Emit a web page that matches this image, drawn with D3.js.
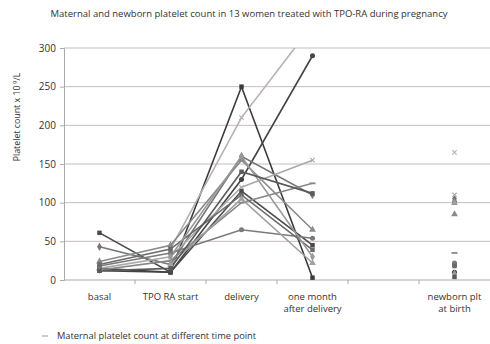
<!DOCTYPE html>
<html><head><meta charset="utf-8">
<script src="https://cdn.jsdelivr.net/npm/d3@7"></script>
<style>body{margin:0;background:#fff}svg{display:block}text{font-family:"Open Sans","Liberation Sans",sans-serif;fill:#333}</style>
</head><body><svg id="c" width="490" height="344"></svg>
<script>
const categories = ["basal", "TPO RA start", "delivery", "one month|after delivery", "", "newborn plt|at birth"];
const yTicks = [0, 50, 100, 150, 200, 250, 300];
// each woman: basal, TPO RA start, delivery, one month after, (gap), newborn
const series = [
  {name: "W1",  color: "#3a3a3a", marker: "square",   values: [15, 10, 250, 3, null, 20]},
  {name: "W2",  color: "#444444", marker: "circle",   values: [12, 10, 130, 290, null, 10]},
  {name: "W3",  color: "#b8b0b0", marker: "x",        values: [null, 40, 210, 330, null, 165]},
  {name: "W4",  color: "#4a4a4a", marker: "square",   values: [61, 10, 115, 45, null, 100]},
  {name: "W5",  color: "#777777", marker: "diamond",  values: [43, 20, 160, 110, null, 105]},
  {name: "W6",  color: "#8a8a8a", marker: "triangle", values: [24, 45, 155, 65, null, 85]},
  {name: "W7",  color: "#aaaaaa", marker: "x",        values: [15, 30, 120, 155, null, 110]},
  {name: "W8",  color: "#888888", marker: "dash",     values: [13, 25, 100, 125, null, 35]},
  {name: "W9",  color: "#7a7a7a", marker: "circle",   values: [18, 35, 65, 54, null, 22]},
  {name: "W10", color: "#6a6a6a", marker: "square",   values: [20, 40, 110, 39, null, 18]},
  {name: "W11", color: "#999999", marker: "diamond",  values: [null, 30, 160, 30, null, 8]},
  {name: "W12", color: "#a0a0a0", marker: "triangle", values: [null, 20, 105, 22, null, 100]},
  {name: "W13", color: "#5a5a5a", marker: "square",   values: [12, 15, 140, 112, null, 4]}
];
const title = "Maternal and newborn platelet count in 13 women treated with TPO-RA during pregnancy";
const yLabel = "Platelet count x 10";
const caption = "Maternal platelet count  at different time point";

const svg = d3.select("#c");
const m = {l: 64, r: 490, t: 48, b: 280};
const x = d3.scaleBand().domain(d3.range(categories.length)).range([m.l, m.r]);
const y = d3.scaleLinear().domain([0, 300]).range([m.b, m.t]);
const cx = i => x(i) + x.bandwidth() / 2;

svg.append("text").attr("x", 249).attr("y", 17).attr("text-anchor", "middle")
  .attr("font-size", 9.5).text(title);

// gridlines
svg.append("g").selectAll("line").data(yTicks.filter(d => d > 0)).join("line")
  .attr("x1", m.l).attr("x2", m.r).attr("y1", d => y(d)).attr("y2", d => y(d))
  .attr("stroke", "#c9bcbc").attr("stroke-width", 1);

// y axis
const ya = svg.append("g").attr("transform", `translate(${m.l},0)`)
  .call(d3.axisLeft(y).tickValues(yTicks).tickSize(4).tickPadding(4));
ya.select(".domain").attr("stroke", "#aaa");
ya.selectAll(".tick line").attr("stroke", "#aaa");
ya.selectAll(".tick text").attr("font-size", 10).attr("fill", "#333")
  .attr("font-family", "'Open Sans',sans-serif");

// x axis
svg.append("line").attr("x1", m.l).attr("x2", m.r).attr("y1", m.b).attr("y2", m.b).attr("stroke", "#aaa");
svg.append("g").selectAll("line").data(d3.range(1, categories.length)).join("line")
  .attr("x1", d => x(d)).attr("x2", d => x(d)).attr("y1", m.b).attr("y2", m.b + 4).attr("stroke", "#aaa");
const cl = svg.append("g").selectAll("text").data(categories).join("text")
  .attr("text-anchor", "middle").attr("font-size", 9.5).attr("y", 300);
cl.each(function(d, i) {
  d.split("|").forEach((s, k) => {
    d3.select(this).append("tspan").attr("x", cx(i)).attr("dy", k ? 12 : 0).text(s);
  });
});

// y label
svg.append("text").attr("transform", "translate(20,117) rotate(-90)").attr("text-anchor", "middle")
  .attr("font-size", 8.8).text(yLabel).append("tspan").attr("dy", -3).attr("font-size", 6).text(" 9")
  .clone().attr("dy", 3).attr("font-size", 8.8).text("/L");

// lines
svg.append("clipPath").attr("id", "pc").append("rect")
  .attr("x", m.l).attr("y", m.t).attr("width", m.r - m.l).attr("height", m.b - m.t + 6);
const line = d3.line().defined(d => d != null).x((d, i) => cx(i)).y(d => y(d));
const g = svg.append("g").attr("clip-path", "url(#pc)");
series.forEach(s => {
  g.append("path").attr("d", line(s.values)).attr("fill", "none")
    .attr("stroke", s.color).attr("stroke-width", 1.6);
});
const shapes = {square: d3.symbolSquare, circle: d3.symbolCircle, diamond: d3.symbolDiamond, triangle: d3.symbolTriangle};
series.forEach(s => {
  s.values.forEach((v, i) => {
    if (v == null || v > 300) return;
    const px = cx(i), py = y(v);
    if (s.marker === "dash") {
      g.append("line").attr("x1", px - 3).attr("x2", px + 3).attr("y1", py).attr("y2", py)
        .attr("stroke", s.color).attr("stroke-width", 1.8);
    } else if (s.marker === "x") {
      g.append("path").attr("d", d3.symbol(d3.symbolX, 14)()).attr("transform", `translate(${px},${py})`)
        .attr("stroke", s.color).attr("fill", "none").attr("stroke-width", 1.1);
    } else {
      g.append("path").attr("d", d3.symbol(shapes[s.marker], 20)()).attr("transform", `translate(${px},${py})`)
        .attr("fill", s.color);
    }
  });
});

// caption
svg.append("line").attr("x1", 42).attr("x2", 48).attr("y1", 336).attr("y2", 336).attr("stroke", "#ccc").attr("stroke-width", 2);
svg.append("text").attr("x", 57).attr("y", 339).attr("font-size", 9.3).text(caption);
</script></body></html>
